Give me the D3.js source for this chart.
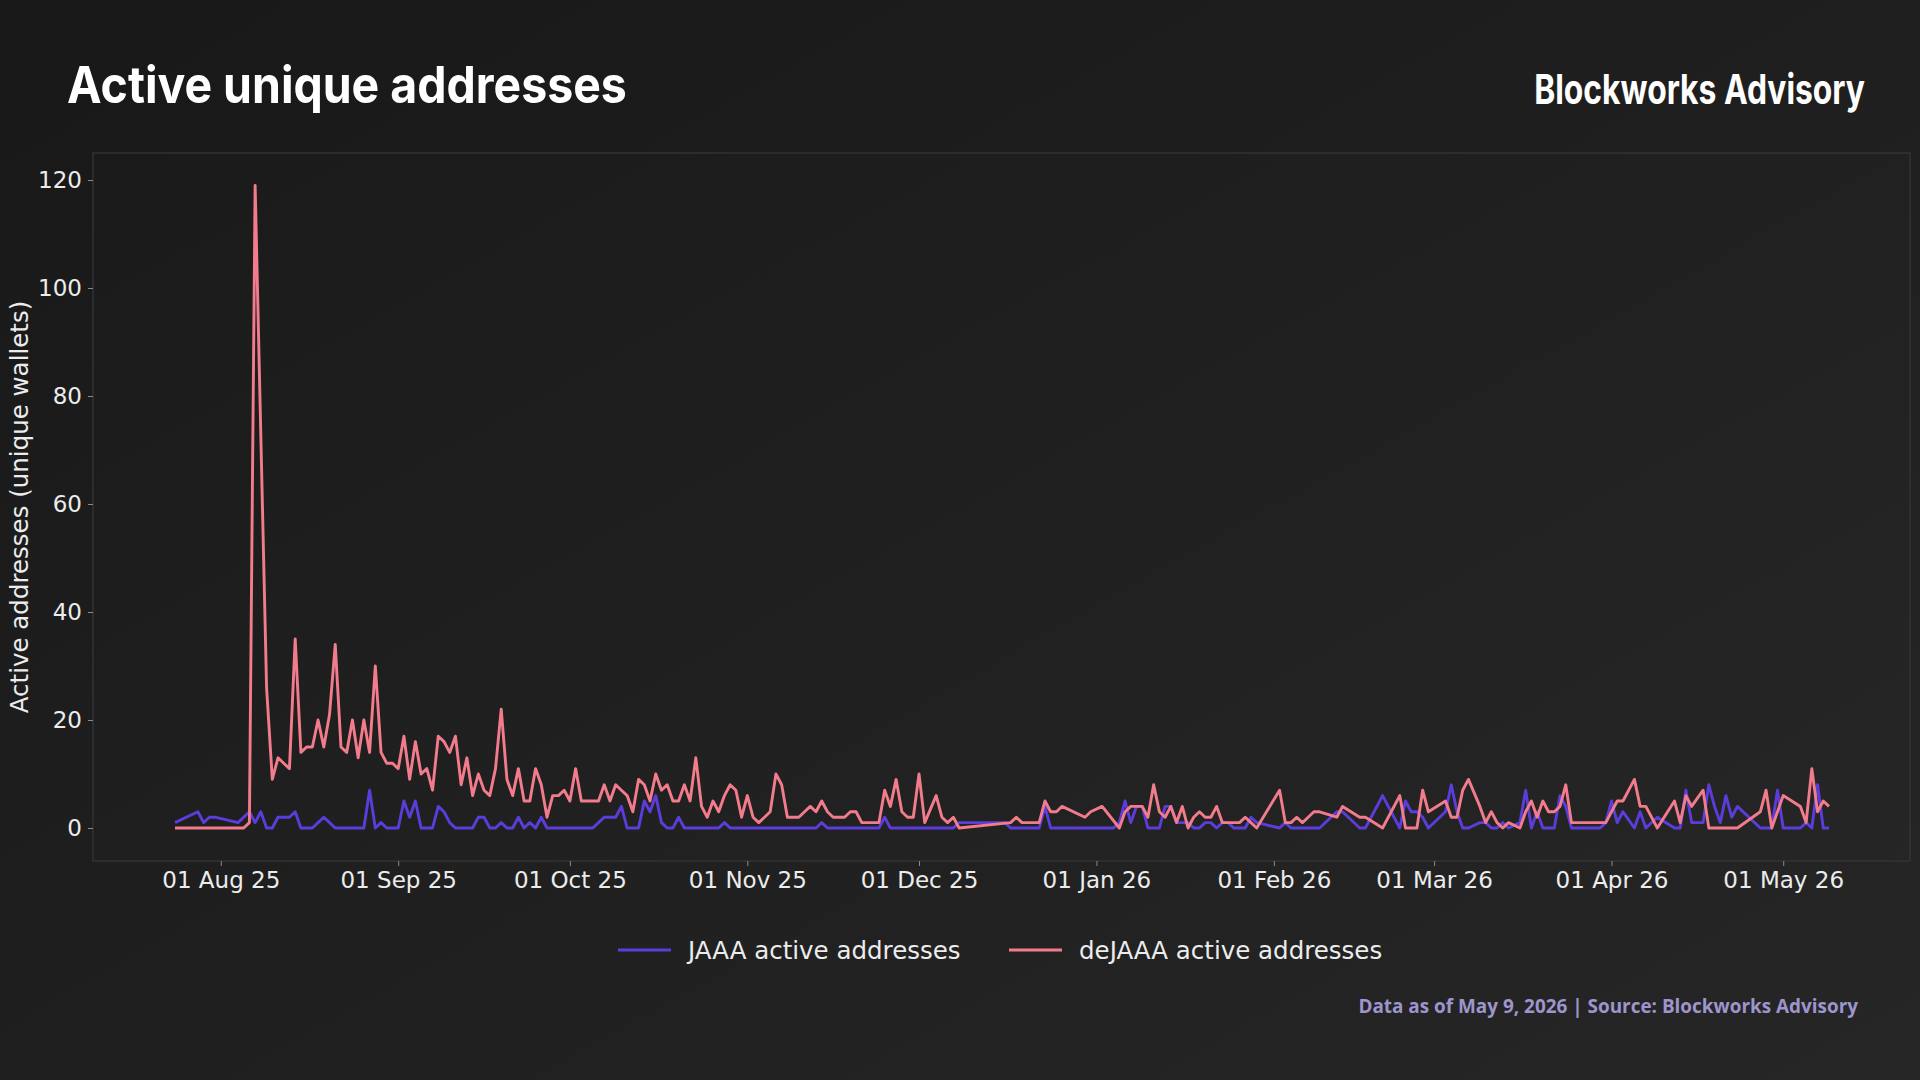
<!DOCTYPE html>
<html>
<head>
<meta charset="utf-8">
<script src="https://cdn.jsdelivr.net/npm/d3@7/dist/d3.min.js"></script>
<style>
  body { margin: 0; background: #1b1b1b; }
  svg { display: block; }
</style>
</head>
<body>
<svg id="chart" width="1920" height="1080"></svg>
<script>
// daily values starting 24 Jul 2025, null = no row that day
const startDate = new Date(2025, 6, 24);

const jaaaActive = [
  1, null, null, null, 3, 1, 2, 2, null, null,
  null, 1, 2, 3, 1, 3, 0, 0, 2, 2,
  2, 3, 0, 0, 0, 1, 2, 1, 0, 0,
  0, 0, 0, 0, 7, 0, 1, 0, 0, 0,
  5, 2, 5, 0, 0, 0, 4, 3, 1, 0,
  0, 0, 0, 2, 2, 0, 0, 1, 0, 0,
  2, 0, 1, 0, 2, 0, 0, 0, 0, 0,
  0, 0, 0, 0, 1, 2, 2, 2, 4, 0,
  0, 0, 5, 3, 6, 1, 0, 0, 2, 0,
  0, 0, 0, 0, 0, 0, 1, 0, 0, 0,
  0, 0, 0, 0, 0, 0, 0, 0, 0, 0,
  0, 0, 0, 1, 0, 0, 0, 0, 0, 0,
  0, 0, 0, 0, 2, 0, 0, 0, 0, 0,
  0, 0, 0, 0, 0, 0, 0, 1, 1, 1,
  1, 1, 1, 1, 1, 1, 0, 0, 0, 0,
  0, 0, 4, 0, 0, 0, 0, 0, 0, 0,
  0, 0, 0, 0, 0, 1, 5, 1, 4, 4,
  0, 0, 0, 4, 4, 1, 1, 1, 0, 0,
  1, 1, 0, 1, 1, 0, 0, 0, 2, 1,
  null, null, null, 0, 1, 0, 0, 0, 0, 0,
  0, null, null, 3, 3, null, null, 0, 0, null,
  null, 6, null, null, 0, 5, 3, 3, 2, 0,
  null, null, 3, 8, 3, 0, 0, null, 1, 1,
  0, 0, 1, 0, null, 1, 7, 0, 3, 0,
  0, 0, 6, 4, 0, 0, 0, 0, 0, 0,
  1, 5, 1, 3, null, 0, 3, 0, null, 2,
  null, null, 0, 0, 7, 1, null, 1, 8, 4,
  1, 6, 2, 4, null, null, null, 0, 0, 0,
  7, 0, null, null, 0, 1, 0, 8, 0, 0
];

const dejaaaActive = [
  0, null, null, null, 0, 0, 0, 0, null, null,
  null, 0, 0, 1, 119, null, 26, 9, 13, 12,
  11, 35, 14, 15, 15, 20, 15, 21, 34, 15,
  14, 20, 13, 20, 14, 30, 14, 12, 12, 11,
  17, 9, 16, 10, 11, 7, 17, 16, 14, 17,
  8, 13, 6, 10, 7, 6, 11, 22, 9, 6,
  11, 5, 5, 11, 8, 2, 6, 6, 7, 5,
  11, 5, 5, 5, 5, 8, 5, 8, 7, 6,
  3, 9, 8, 5, 10, 7, 8, 5, 5, 8,
  5, 13, 4, 2, 5, 3, 6, 8, 7, 2,
  6, 2, 1, 2, 3, 10, 8, 2, 2, 2,
  3, 4, 3, 5, 3, 2, 2, 2, 3, 3,
  1, 1, 1, 1, 7, 4, 9, 3, 2, 2,
  10, 1, null, 6, 2, 1, 2, 0, null, null,
  null, null, null, null, null, null, 1, 2, 1, 1,
  1, 1, 5, 3, 3, 4, null, null, null, 2,
  3, null, 4, null, null, 0, 3, 4, 4, 4,
  2, 8, 3, 2, 4, 1, 4, 0, 2, 3,
  2, 2, 4, 1, 1, 1, 1, 2, 1, 0,
  null, null, null, 7, 1, 1, 2, 1, 2, 3,
  3, null, null, 2, 4, null, null, 2, 2, null,
  null, 0, null, null, 6, 0, 0, 0, 7, 3,
  null, null, 5, 2, 2, 7, 9, null, 4, 1,
  3, 1, 0, 1, null, 0, 3, 5, 2, 5,
  3, 3, 4, 8, 1, 1, 1, 1, 1, 1,
  1, 3, 5, 5, null, 9, 4, 4, null, 0,
  null, null, 5, 1, 6, 4, null, 7, 0, 0,
  0, 0, 0, 0, null, null, null, 3, 7, 0,
  3, 6, null, null, 4, 1, 11, 3, 5, 4
];

const seriesNames = ['JAAA active addresses', 'deJAAA active addresses'];
const yTicks = [0, 20, 40, 60, 80, 100, 120];

const colors = ['#5a3ddb', '#f27c8c'];
const font = '"DejaVu Sans", sans-serif';

const svg = d3.select('#chart');

// background
const defs = svg.append('defs');
const grad = defs.append('linearGradient')
  .attr('id', 'bg')
  .attr('x1', '0').attr('y1', '0').attr('x2', '1').attr('y2', '1');
grad.append('stop').attr('offset', '0%').attr('stop-color', '#181818');
grad.append('stop').attr('offset', '100%').attr('stop-color', '#262626');
svg.append('rect').attr('width', 1920).attr('height', 1080).attr('fill', 'url(#bg)');

const plot = { left: 93, top: 153, right: 1910, bottom: 861 };

svg.append('rect')
  .attr('x', plot.left).attr('y', plot.top)
  .attr('width', plot.right - plot.left).attr('height', plot.bottom - plot.top)
  .attr('fill', 'rgba(255,255,255,0.008)')
  .attr('stroke', '#383838')
  .attr('stroke-width', 1.2);

const dates = jaaaActive.map((v, i) => d3.timeDay.offset(startDate, i));

const x = d3.scaleTime()
  .domain([dates[0], dates[dates.length - 1]])
  .range([175, 1829]);

const y = d3.scaleLinear()
  .domain([0, 120])
  .range([828, 180]);

// axes
const xAxis = svg.append('g')
  .attr('transform', 'translate(0,' + plot.bottom + ')')
  .call(d3.axisBottom(x)
    .ticks(d3.timeMonth.every(1))
    .tickFormat(d3.timeFormat('%d %b %y'))
    .tickSize(5)
    .tickPadding(6));

const yAxis = svg.append('g')
  .attr('transform', 'translate(' + plot.left + ',0)')
  .call(d3.axisLeft(y).tickValues(yTicks).tickSize(5).tickPadding(6));

[xAxis, yAxis].forEach(function (ax) {
  ax.select('.domain').remove();
  ax.selectAll('line').attr('stroke', '#8a8a8a');
  ax.selectAll('text')
    .attr('fill', '#ececec')
    .style('font-family', font)
    .style('font-size', '23px');
});

svg.append('text')
  .attr('transform', 'translate(28,507) rotate(-90)')
  .attr('text-anchor', 'middle')
  .attr('fill', '#ececec')
  .style('font-family', font)
  .style('font-size', '24.5px')
  .text('Active addresses (unique wallets)');

// lines
const line = d3.line()
  .x(d => x(d.date))
  .y(d => y(d.value));

[jaaaActive, dejaaaActive].forEach(function (values, k) {
  const pts = values
    .map((v, i) => ({ date: dates[i], value: v }))
    .filter(d => d.value !== null);
  svg.append('path')
    .datum(pts)
    .attr('d', line)
    .attr('fill', 'none')
    .attr('stroke', colors[k])
    .attr('stroke-width', 2.9)
    .attr('stroke-linejoin', 'round');
});

// legend
const legendX = [618, 1009];
seriesNames.forEach(function (name, k) {
  const g = svg.append('g').attr('transform', 'translate(' + legendX[k] + ',950)');
  g.append('line')
    .attr('x1', 0).attr('x2', 53)
    .attr('stroke', colors[k])
    .attr('stroke-width', 3);
  g.append('text')
    .attr('x', 70)
    .attr('dy', '0.35em')
    .attr('fill', '#ececec')
    .style('font-family', font)
    .style('font-size', '24.5px')
    .text(name);
});

// title, brand, source: squeeze horizontally to the reference widths
function fitText(px, py, anchor, width, txt, family, weight, size, fill) {
  const g = svg.append('g');
  const t = g.append('text')
    .attr('text-anchor', anchor)
    .attr('fill', fill)
    .style('font-family', family)
    .style('font-weight', weight)
    .style('font-size', size + 'px')
    .text(txt);
  const s = width / t.node().getComputedTextLength();
  g.attr('transform', 'translate(' + px + ',' + py + ') scale(' + s + ',1)');
}

fitText(67, 103, 'start', 560, 'Active unique addresses', 'Inter, sans-serif', 700, 51, '#ffffff');
fitText(1865, 104, 'end', 331, 'Blockworks Advisory', 'Inter, sans-serif', 700, 41, '#ffffff');
fitText(1858, 1013, 'end', 500, 'Data as of May 9, 2026 | Source: Blockworks Advisory',
  '"Open Sans", sans-serif', 700, 20, '#9d95cc');
</script>
</body>
</html>
